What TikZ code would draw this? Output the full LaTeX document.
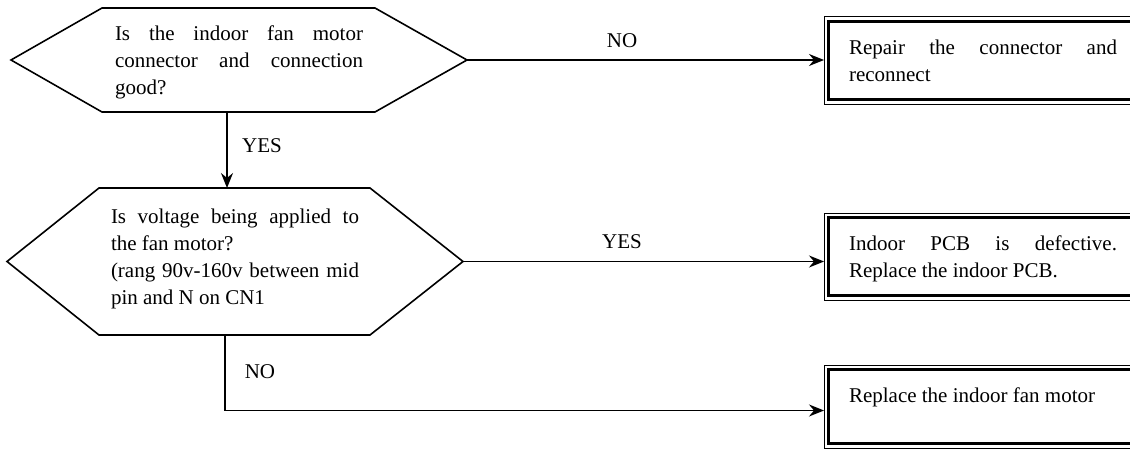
\documentclass[tikz,border=0pt]{standalone}
\usepackage{fontspec}
\setmainfont{Liberation Serif}
\usetikzlibrary{arrows.meta}
\begin{document}
\begin{tikzpicture}[x=1pt,y=-1pt,
  txt/.style={font=\fontsize{21}{27}\selectfont, inner sep=0pt, outer sep=0pt},
  para/.style={txt, align=justify},
  hexframe/.style={inner sep=0pt, outer sep=0pt},
  hexline/.style={line width=1.6pt, line join=miter},
  outerbox/.style={draw, line width=1pt, inner sep=0pt, outer sep=0pt, anchor=north west, minimum width=321},
  innerbox/.style={line width=2.2pt},
  conn/.style={line width=1.6pt, -{Stealth[length=15pt,width=12pt,inset=5pt]}},
  lbl/.style={txt}]
\useasboundingbox (0,0) rectangle (1130,452);
\clip (0,0) rectangle (1130,452);

% decision 1
\node[hexframe, minimum width=456, minimum height=104] (q1) at (239,60) {};
\draw[hexline] (q1.west) -- ([xshift=91]q1.north west) -- ([xshift=-92]q1.north east) -- (q1.east)
  -- ([xshift=-92]q1.south east) -- ([xshift=91]q1.south west) -- cycle;
\node[para, text width=248] (q1t) at ([yshift=-2]q1.center)
  {\strut Is the indoor fan motor\linebreak
   connector and connection\linebreak
   good?\strut};

% decision 2
\node[hexframe, minimum width=456, minimum height=147] (q2) at (235,261.5) {};
\draw[hexline] (q2.west) -- ([xshift=92]q2.north west) -- ([xshift=-93]q2.north east) -- (q2.east)
  -- ([xshift=-93]q2.south east) -- ([xshift=92]q2.south west) -- cycle;
\node[para, text width=248] (q2t) at ([yshift=3]q2.center)
  {\strut Is voltage being applied to\linebreak
   the fan motor?\newline
   (rang 90v-160v between mid\linebreak
   pin and N on CN1\strut};

% result boxes
\node[outerbox, minimum height=87] (r1) at (824,17) {};
\draw[innerbox] ([shift={(4.5,4.5)}]r1.north west) rectangle ([shift={(-4.5,-4.5)}]r1.south east);
\node[para, anchor=north west, text width=268] (r1t) at ([shift={(25,19)}]r1.north west)
  {\strut Repair the connector and\linebreak reconnect\strut};

\node[outerbox, minimum height=87] (r2) at (824,213) {};
\draw[innerbox] ([shift={(4.5,4.5)}]r2.north west) rectangle ([shift={(-4.5,-4.5)}]r2.south east);
\node[para, anchor=north west, text width=268] (r2t) at ([shift={(25,19)}]r2.north west)
  {\strut Indoor PCB is defective.\linebreak Replace the indoor PCB.\strut};

\node[outerbox, minimum height=83] (r3) at (824,365) {};
\draw[innerbox] ([shift={(4.5,4.5)}]r3.north west) rectangle ([shift={(-4.5,-4.5)}]r3.south east);
\node[para, anchor=north west, text width=268] (r3t) at ([shift={(25,19)}]r3.north west)
  {\strut Replace the indoor fan motor\strut};

% connectors
\draw[conn] (q1.east) -- (q1.east -| r1.west);
\coordinate (y1) at ([xshift=-12]q1.south);
\draw[conn] (y1) -- (y1 |- q2.north);
\draw[conn] (q2.east) -- (q2.east -| r2.west);
\draw[conn] ([xshift=-10]q2.south) |- ([yshift=-4]r3.west);

% labels
\node[lbl] (lno1) at (622,41) {NO};
\node[lbl] (lyes1) at (262,146) {YES};
\node[lbl] (lyes2) at (622,242) {YES};
\node[lbl] (lno2) at (260,372) {NO};
\end{tikzpicture}
\end{document}
